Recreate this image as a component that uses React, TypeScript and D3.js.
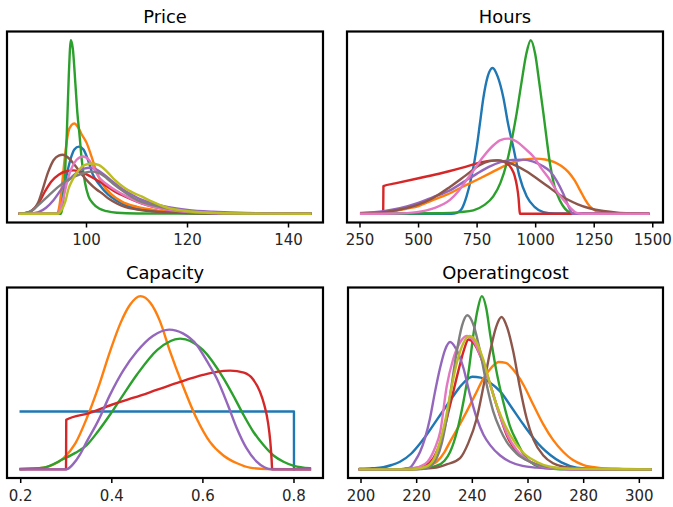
import React from "react";
import * as d3 from "d3";

type Pt = [number, number];

// ---------- Price ----------
const priceTitle = "Price";
const priceTicks = [100, 120, 140];
const priceDomain: Pt = [84.26, 146.83];
const priceBlue: Pt[] = [[86.8,0],[94.3,0],[94.8,4],[95.5,14],[96.2,24],[96.9,32],[97.6,37],[98.5,38.7],[99.4,37],[100.3,31],[101.2,23],[102.5,17],[104.3,11],[106,7.5],[108.2,4.5],[111,2.5],[115,1],[122,0.3],[144.3,0]];
const priceOrange: Pt[] = [[86.8,0],[94.2,0],[94.6,4],[95.2,18],[95.8,35],[96.4,47],[97,51],[97.6,52],[98.3,50],[99,46],[100,41],[101,33],[102,24],[103,18],[105,11],[107,7],[110,4],[114,2],[120,0.7],[130,0.1],[144.3,0]];
const priceGreen: Pt[] = [[86.8,0],[94.9,0],[95.3,5],[95.7,20],[96.1,46],[96.5,80],[96.9,100],[97.3,95],[97.8,75],[98.2,58],[98.6,46],[99.1,30],[99.7,18],[100.4,10],[101.3,6],[102.5,3],[104,1.5],[106,0.6],[110,0.2],[144.3,0]];
const priceRed: Pt[] = [[86.8,0],[87.8,0.3],[89,1.5],[90.5,6],[91.8,13],[93,18.5],[94.5,22.5],[96,24.5],[97.5,25],[99,24],[100.5,22],[102,19.5],[103.7,16.5],[105.5,13],[107.6,10],[110,7],[112,5],[116,2.5],[120,1.2],[128,0.3],[144.3,0]];
const pricePurple: Pt[] = [[86.8,0],[89,0.2],[90.5,1],[92,3.5],[93.5,8],[95,14],[96.5,19.5],[98,23.5],[99.5,26],[100.8,26.5],[102,25.5],[103.5,22.5],[105,19],[107,14.5],[109,11],[111,8],[113,6],[116,4],[120,2.3],[125,1.2],[130,0.6],[136,0.3],[144.3,0.1]];
const priceBrown: Pt[] = [[86.8,0],[88,0.5],[89,1.5],[89.8,3.5],[90.5,7],[91.1,12],[92.4,24],[93.5,31],[94.5,33.5],[95.3,34],[96.5,32],[97.7,28],[99,23],[100.5,18],[102,14],[103,12],[104.5,8.5],[106,6],[107.6,4],[110,2.5],[113,1.5],[118,0.6],[125,0.2],[144.3,0]];
const pricePink: Pt[] = [[86.8,0],[94.3,0],[94.8,3],[95.5,10],[96.2,19],[97,26],[98,31],[99.3,33],[100.5,31],[101.5,26],[102.5,21],[104,17],[105.5,14],[107,11.5],[109,8.5],[112,5],[116,2.5],[122,0.8],[130,0.2],[144.3,0]];
const priceGray: Pt[] = [[86.8,0],[88,0.5],[89.5,2.5],[91,6.5],[92.5,10.5],[94.4,15.5],[96,19],[97.7,21.5],[99.5,23.5],[101,24.3],[102.5,23.5],[104,20.5],[105.6,16.5],[107.5,12.5],[110,8],[112.5,5.5],[115.5,3.5],[120,1.5],[126,0.5],[135,0.1],[144.3,0]];
const priceOlive: Pt[] = [[86.8,0],[94.4,0],[95,2],[95.8,7],[96.4,14],[97.3,20],[98.4,25],[99.6,28],[101,29],[102.5,28],[104,24.5],[105.6,19.5],[107.5,15],[109,12.5],[110.9,10],[113,7],[116,3.5],[120,1.5],[126,0.5],[135,0.1],[144.3,0]];

// ---------- Hours ----------
const hoursTitle = "Hours";
const hoursTicks = [250, 500, 750, 1000, 1250, 1500];
const hoursDomain: Pt = [194.5, 1543.7];
const hoursBlue: Pt[] = [[255,0],[640,0],[663,0.5],[685,3],[705,10],[727,22],[748,38],[762,52],[777,67],[795,79],[816,84],[838,79],[862,67],[882,52],[905,38],[930,22],[962,10],[995,4],[1033,1],[1080,0.2],[1480,0]];
const hoursOrange: Pt[] = [[255,0],[300,0.3],[378,1],[450,3],[500,4.5],[563,8],[620,11],[680,15],[748,19.5],[800,23],[850,26.5],[900,29.5],[950,31.2],[1000,31.8],[1040,31.3],[1080,29.8],[1110,27.5],[1140,24],[1165,19.5],[1190,13.5],[1210,8.5],[1230,4.5],[1255,1.8],[1285,0.6],[1320,0.1],[1480,0]];
const hoursGreen: Pt[] = [[255,0],[600,0.3],[680,1],[734,2],[780,5],[819,10],[850,18],[876,29],[900,44],[919,58],[940,76],[960,92],[979,100],[998,92],[1015,76],[1033,58],[1048,42],[1061,29],[1080,16],[1104,7.5],[1125,3],[1147,0.7],[1180,0],[1480,0]];
const hoursRed: Pt[] = [[255,0],[349,0],[350,16],[400,17.5],[500,20.5],[600,23.5],[700,27],[760,29.5],[800,30.5],[840,30.8],[870,29.5],[895,26.5],[910,22],[920,16],[927,9],[931,2],[933,0],[1480,0]];
const hoursPurple: Pt[] = [[255,0.5],[350,1.5],[420,3.2],[492,6],[560,9.5],[634,13.5],[700,19],[748,23],[800,27],[850,29.8],[900,31],[947,31.2],[990,30],[1030,27.5],[1061,24.5],[1090,19],[1118,11.5],[1138,5],[1150,1.5],[1158,0],[1480,0]];
const hoursBrown: Pt[] = [[255,0.3],[350,1],[420,2.5],[492,5],[560,9],[634,15.5],[700,22],[760,28],[800,30.3],[833,30.8],[870,30],[920,27.5],[960,24.5],[1004,20.5],[1050,16],[1090,12],[1132,8.5],[1180,5.5],[1230,3.2],[1289,1.6],[1350,0.7],[1420,0.3],[1480,0.1]];
const hoursPink: Pt[] = [[255,0],[400,0.2],[492,1],[560,3],[634,8],[670,13],[705,19.5],[740,26],[777,33],[820,39.5],[850,42.5],[883,43.3],[920,41.5],[955,37.5],[990,33],[1025,26],[1061,19.5],[1095,12],[1132,6],[1155,2.5],[1175,0.5],[1200,0],[1480,0]];

// ---------- Capacity ----------
const capacityTitle = "Capacity";
const capacityTicks = [0.2, 0.4, 0.6, 0.8];
const capacityDomain: Pt = [0.1699, 0.8637];
const capacityBlue: Pt[] = [[0.2,33.4],[0.7999,33.4],[0.8,0]];
const capacityOrange: Pt[] = [[0.2,0.2],[0.25,1],[0.27,2.5],[0.294,6.5],[0.32,15],[0.345,29.5],[0.37,47],[0.396,68],[0.42,85],[0.44,95],[0.463,100],[0.485,96],[0.505,86],[0.528,68],[0.555,49],[0.586,29.5],[0.615,16],[0.645,8],[0.675,3.5],[0.703,1],[0.74,0.2],[0.835,0]];
const capacityGreen: Pt[] = [[0.2,0.2],[0.25,1],[0.294,6],[0.32,9.5],[0.345,14],[0.37,22],[0.396,31.5],[0.425,43],[0.455,54.6],[0.5,69],[0.55,75.5],[0.6,69],[0.645,52.7],[0.67,41],[0.689,31.5],[0.71,22],[0.733,14],[0.755,8],[0.777,4.4],[0.8,2],[0.835,0.6]];
const capacityRed: Pt[] = [[0.2,0],[0.2995,0],[0.3,28.6],[0.35,32.5],[0.4,37.3],[0.45,41.5],[0.5,46],[0.55,50.5],[0.6,54.5],[0.63,56.3],[0.66,57],[0.69,55.8],[0.71,52],[0.725,45],[0.735,37],[0.743,27],[0.748,16],[0.751,5],[0.752,0],[0.835,0]];
const capacityPurple: Pt[] = [[0.2,0],[0.3,0],[0.315,3],[0.33,8.5],[0.345,16],[0.37,28],[0.396,43],[0.425,57],[0.455,68],[0.49,77],[0.526,80.7],[0.556,78.5],[0.586,72],[0.61,62],[0.63,52.7],[0.655,37],[0.674,24],[0.695,12.5],[0.718,4.5],[0.735,1.2],[0.75,0],[0.835,0]];

// ---------- Operatingcost ----------
const opcostTitle = "Operatingcost";
const opcostTicks = [200, 220, 240, 260, 280, 300];
const opcostDomain: Pt = [195.33, 308.5];
const opcostBlue: Pt[] = [[199.6,0.3],[204,0.6],[208,1.2],[211,2.5],[214,4.4],[218,9],[221,14.5],[223.6,20],[227,28],[230,35],[233,42],[236,48.5],[240,53.5],[243,53],[246,50.5],[250,45],[254,36],[258.3,26],[262,18],[265,12.5],[268,8.3],[272,4],[277.5,1],[285,0.2],[304,0]];
const opcostOrange: Pt[] = [[199.6,0],[218,0],[222.4,0.6],[225,2.5],[227.2,4.4],[230,10],[232,16],[235,24.5],[238,33.5],[241,43],[244,52.5],[247,59],[249.5,62],[252,61.5],[255,57],[258.3,49],[262,37],[265.5,26],[269,17],[272.7,10],[276,5.5],[280,2.5],[285,1],[292,0.3],[304,0]];
const opcostGreen: Pt[] = [[199.6,0],[214,0],[216,0.5],[220,0.8],[224,1.2],[227,2],[230,5],[232,10],[234.5,22],[236.8,39],[238.8,58],[240.4,78],[242,93],[243.4,100],[245,93],[246.4,78],[248.5,58],[251.1,39],[253.5,25],[256,16],[258.5,8.5],[260.7,4.4],[264,1.5],[268,0.5],[275,0],[304,0]];
const opcostRed: Pt[] = [[199.6,0],[216,0],[220,0.8],[223,2],[226,6.5],[229,18],[232,37],[235,57],[237,69],[238.6,75],[240.5,73],[243,65],[246.4,49],[249.5,33],[252.3,20],[256,10],[260.7,4.4],[265,1.8],[270,0.6],[280,0],[304,0]];
const opcostPurple: Pt[] = [[199.6,0],[215,0],[217.6,1],[219.5,5],[221.2,10],[223,18],[224.8,29.5],[226.5,44],[228.4,58.5],[230.2,69],[232,73.5],[234,70],[236.8,58.5],[239,44],[241.6,29.5],[244,20],[246.4,14],[250,8],[253.5,4.4],[258,2],[263,1],[270,0.3],[280,0],[304,0]];
const opcostBrown: Pt[] = [[199.6,0],[218,0],[222,0.3],[227,1],[231,3],[235.6,6.5],[238.5,15],[241.6,29.5],[244,48],[246.4,68],[248.5,82],[250.5,88],[252.5,82],[254.7,68],[257,48],[259.5,29.5],[262,17],[265.5,8],[269,3.5],[272.7,1.5],[280,0.3],[290,0],[304,0]];
const opcostPink: Pt[] = [[199.6,0],[215,0],[218,0.5],[221,1.5],[224,4.5],[226.5,12],[228.5,22],[230.8,48],[233,63],[235.5,73],[238,77],[240.5,74],[243,65],[246.4,49],[249.5,33],[252.3,21],[256,11],[260.7,4.5],[265,1.7],[270,0.5],[280,0],[304,0]];
const opcostGray: Pt[] = [[199.6,0],[220,0],[223.6,0.6],[225.5,2.5],[227.2,6.5],[229,15],[230.8,29.5],[232.5,48],[234.4,68],[236.3,83],[238.2,89],[240.5,83],[242.8,68],[245,50],[247.5,33.5],[250,23],[252.3,16],[256,9],[260.7,4.4],[265,2],[270,0.8],[280,0.2],[304,0]];
const opcostOlive: Pt[] = [[199.6,0],[218,0],[221,0.6],[224,2],[226.5,7],[228.4,16],[230.5,30],[232,43],[234.5,62],[236.8,73],[239,77],[241.5,73.5],[244,63],[247.5,43],[250.5,30],[253.5,20],[258,10],[263,4.4],[268,1.5],[275,0.3],[304,0]];

const palette = ["#1f77b4", "#ff7f0e", "#2ca02c", "#d62728", "#9467bd", "#8c564b", "#e377c2", "#7f7f7f", "#bcbd22"];

const yDomain: Pt = [-5, 105];

interface Panel {
  title: string;
  ticks: number[];
  domain: Pt;
  series: Pt[][];
  fmt: (v: number) => string;
  box: { x0: number; y0: number; x1: number; y1: number };
}

const panels: Panel[] = [
  { title: priceTitle, ticks: priceTicks, domain: priceDomain, fmt: (v) => String(v),
    series: [priceBlue, priceOrange, priceGreen, priceRed, pricePurple, priceBrown, pricePink, priceGray, priceOlive],
    box: { x0: 7, y0: 31.5, x1: 323, y1: 222.5 } },
  { title: hoursTitle, ticks: hoursTicks, domain: hoursDomain, fmt: (v) => String(v),
    series: [hoursBlue, hoursOrange, hoursGreen, hoursRed, hoursPurple, hoursBrown, hoursPink],
    box: { x0: 347, y0: 31.5, x1: 663, y1: 222.5 } },
  { title: capacityTitle, ticks: capacityTicks, domain: capacityDomain, fmt: (v) => v.toFixed(1),
    series: [capacityBlue, capacityOrange, capacityGreen, capacityRed, capacityPurple],
    box: { x0: 7, y0: 287.5, x1: 323, y1: 478 } },
  { title: opcostTitle, ticks: opcostTicks, domain: opcostDomain, fmt: (v) => String(v),
    series: [opcostBlue, opcostOrange, opcostGreen, opcostRed, opcostPurple, opcostBrown, opcostPink, opcostGray, opcostOlive],
    box: { x0: 348, y0: 287.5, x1: 663, y1: 478 } },
];

const font = "'DejaVu Sans', sans-serif";

function PanelView({ p }: { p: Panel }) {
  const { x0, y0, x1, y1 } = p.box;
  const x = d3.scaleLinear().domain(p.domain).range([x0, x1]);
  const y = d3.scaleLinear().domain(yDomain).range([y1, y0]);
  const line = d3.line<Pt>().x((d) => x(d[0])).y((d) => y(d[1])).curve(d3.curveMonotoneX);
  const clipId = "clip-" + p.title;
  return (
    <g>
      <defs>
        <clipPath id={clipId}>
          <rect x={x0} y={y0} width={x1 - x0} height={y1 - y0} />
        </clipPath>
      </defs>
      <g clipPath={`url(#${clipId})`}>
        {p.series.map((s, i) => (
          <path key={i} d={line(s) || ""} fill="none" stroke={palette[i]} strokeWidth={2.4} strokeLinejoin="round" strokeLinecap="square" />
        ))}
      </g>
      <rect x={x0} y={y0} width={x1 - x0} height={y1 - y0} fill="none" stroke="#000" strokeWidth={2.2} />
      {p.ticks.map((t) => (
        <g key={t}>
          <line x1={x(t)} x2={x(t)} y1={y1} y2={y1 + 5} stroke="#000" strokeWidth={1.5} />
          <text x={x(t)} y={y1 + 22.5} textAnchor="middle" fontFamily={font} fontSize={15} fill="#262626">
            {p.fmt(t)}
          </text>
        </g>
      ))}
      <text x={(x0 + x1) / 2} y={y0 - 8.5} textAnchor="middle" fontFamily={font} fontSize={17.9} fill="#000">
        {p.title}
      </text>
    </g>
  );
}

export default function App() {
  return (
    <svg width={673} height={507} style={{ position: "absolute", left: 0, top: 0, background: "#fff" }}>
      <rect x={0} y={0} width={673} height={507} fill="#fff" />
      {panels.map((p) => (
        <PanelView key={p.title} p={p} />
      ))}
    </svg>
  );
}
